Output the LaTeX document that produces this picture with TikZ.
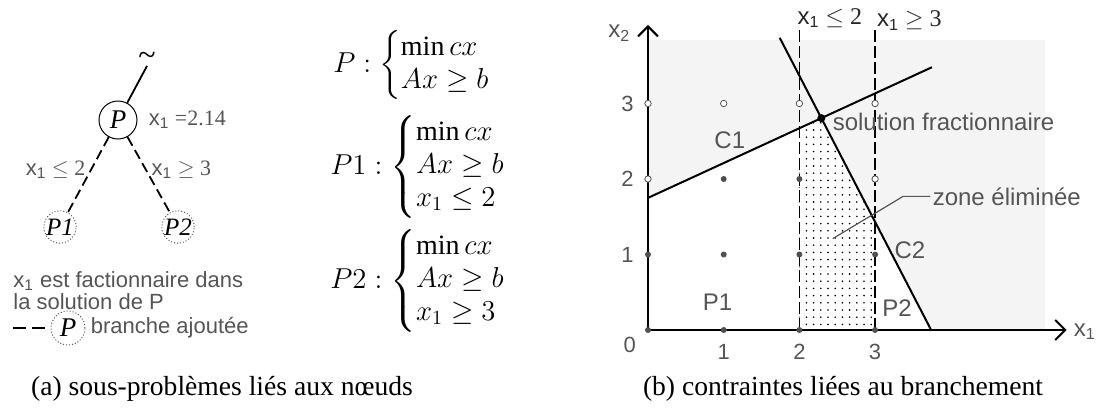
\documentclass[tikz,border=0pt]{standalone}
\usepackage{fontspec}
\setmainfont{Liberation Serif}
\setsansfont{Liberation Sans}
\usepackage{amsmath}
\usetikzlibrary{arrows.meta,positioning,patterns.meta}
\definecolor{lblgray}{RGB}{85,85,85}
\definecolor{bggray}{RGB}{244,244,244}
\definecolor{ptgray}{RGB}{80,80,80}
\newcommand{\xone}{\textsf{x\textsubscript{1}}}
\tikzdeclarepattern{
  name=sdots,
  type=uncolored,
  bottom left={(-1pt,-1pt)},
  top right={(1pt,1pt)},
  tile size={(3.6pt,3.6pt)},
  code={\fill (0pt,0pt) circle (0.45pt);}
}
\tikzset{
  nd/.style={circle,draw,line width=0.5pt,inner sep=0pt,minimum size=19pt,
             font=\fontsize{13.5}{13.5}\selectfont\itshape},
  ndnew/.style={nd,draw=lblgray,densely dotted,minimum size=16pt,
                font=\fontsize{12.5}{12.5}\selectfont\itshape},
  brch/.style={line width=0.9pt,dash pattern=on 5pt off 2.5pt},
  tlbl/.style={font=\fontsize{11}{11}\selectfont,text=lblgray,inner sep=1pt},
  note/.style={font=\sffamily\fontsize{11}{11}\selectfont,text=lblgray,
               inner sep=0pt,align=left},
  lbl/.style={font=\sffamily\fontsize{12}{12}\selectfont,text=lblgray,inner sep=1pt},
  ticklbl/.style={font=\sffamily\fontsize{11}{11}\selectfont,text=lblgray,inner sep=0pt},
  sys/.style={font=\fontsize{14}{13.75}\selectfont,inner sep=0pt,anchor=west},
  captxt/.style={font=\fontsize{13.8}{14}\selectfont,inner sep=0pt},
  axisarr/.style={line width=1pt,-{Straight Barb[length=5pt,width=10pt]}},
  cutline/.style={line width=0.9pt,dash pattern=on 6pt off 2pt},
  ipt/.style={circle,fill=ptgray,inner sep=0pt,minimum size=3pt},
  opt/.style={circle,draw=ptgray,fill=white,line width=0.4pt,inner sep=0pt,minimum size=3.2pt},
}

\begin{document}
\begin{tikzpicture}[x=0.5pt,y=-0.5pt]
  \useasboundingbox (0,0) rectangle (1101,418);

  % (a) search tree
  \node[nd] (nP) at (118,120) {P};
  \node[inner sep=0pt,anchor=south,font=\fontsize{16}{16}\selectfont] (ntilde) at (147,66) {\textasciitilde};
  \node[ndnew] (nP1) at (60,227) {P1};
  \node[ndnew] (nP2) at (178,227) {P2};
  \draw[line width=0.9pt] (ntilde.south) -- (nP);
  \draw[brch] (nP) -- node[tlbl,left,yshift=2.5pt]{\xone{} $\leq$ 2} (nP1);
  \draw[brch] (nP) -- node[tlbl,right,yshift=2.5pt]{\xone{} $\geq$ 3} (nP2);
  \node[tlbl,right=4.5pt of nP] (nval) {\xone{} =2.14};

  \node[note,anchor=north west] (nnote) at (13,271)
       {x\textsubscript{1} est factionnaire dans\\la solution de P};
  \coordinate (leg0) at (13,328);
  \node[ndnew,minimum size=17pt,font=\fontsize{13.5}{13.5}\selectfont\itshape] (nleg) at (68,328) {P};
  \draw[line width=0.9pt,dash pattern=on 6.5pt off 3pt] (leg0) -- (nleg);
  \node[note,right=2.5pt of nleg] (nlegtxt) {branche ajoutée};

  % sub-problems
  \node[sys] (sP) at (333,65) {$P : \begin{cases}\min cx\\ Ax\geq b\end{cases}$};
  \node[sys] (sP1) at (330,167) {$P1 : \begin{cases}\min cx\\ Ax\geq b\\ x_1\leq 2\end{cases}$};
  \node[sys] (sP2) at (330,281) {$P2 : \begin{cases}\min cx\\ Ax\geq b\\ x_1\geq 3\end{cases}$};

  \node[captxt] (capa) at (222,389) {(a) sous-problèmes liés aux nœuds};
  \node[captxt] (capb) at (843,389) {(b) contraintes liées au branchement};

  % (b) branching constraints
  \begin{scope}[shift={(648,330)},x=37.85pt,y=37.75pt]
    \fill[bggray] (0,0) rectangle (5.24,3.84);
    \coordinate (sol) at (2.29,2.806);
    \fill[white] (0,0) -- (0,1.75) -- (sol) -- (3.74,0) -- cycle;
    \fill[pattern=sdots] (2,0) -- (2,2.673) -- (sol) -- (3,1.44) -- (3,0) -- cycle;
    \draw[line width=1pt] (0,1.75) -- (3.75,3.48);
    \draw[line width=1pt] (1.74,3.87) -- (3.74,0);
    \draw[cutline] (2,0) -- (2,3.97);
    \draw[cutline] (3,0) -- (3,4.0);
    \node[tlbl,text=black!85,anchor=west,inner sep=0pt,font=\fontsize{12}{12}\selectfont] (ncut2) at (1.97,4.13) {\xone{} $\leq$ 2};
    \node[tlbl,text=black!85,anchor=west,inner sep=0pt,font=\fontsize{12}{12}\selectfont] (ncut3) at (3.02,4.10) {\xone{} $\geq$ 3};
    \draw[axisarr] (0,0) -- (5.53,0);
    \draw[axisarr] (0,0) -- (0,4.04);
    \node[lbl] (nx1) at (5.77,-0.02) {x\textsubscript{1}};
    \node[lbl] (nx2) at (-0.38,3.93) {x\textsubscript{2}};

    \foreach \i in {1,2,3}{
      \node[ticklbl] (tx\i) at (\i,-0.29) {\i};
      \node[ticklbl] (ty\i) at (-0.27,\i) {\i};
    }
    \node[ticklbl] (t0) at (-0.24,-0.2) {0};

    \foreach \x/\y in {0/0,1/0,2/0,3/0,0/1,1/1,2/1,3/1,1/2,2/2}
      \node[ipt] (pt\x\y) at (\x,\y) {};
    \foreach \x/\y in {0/2,3/2,0/3,1/3,2/3,3/3}
      \node[opt] (pt\x\y) at (\x,\y) {};
    \fill (sol) circle (2pt);

    \node[lbl] (nC1) at (1.08,2.52) {C1};
    \node[lbl] (nC2) at (3.46,1.06) {C2};
    \node[lbl] (nP1g) at (0.92,0.37) {P1};
    \node[lbl] (nP2g) at (3.29,0.29) {P2};
    \node[lbl,right=4.5pt of sol,yshift=-2pt] (nsol) {solution fractionnaire};
    \node[lbl,anchor=west] (nzone) at (3.73,1.77) {zone éliminée};
    \coordinate (zin) at (2.44,1.21);
    \draw[lblgray,line width=0.6pt] (nzone.west) -- ++(-0.36,0) -- (zin);
  \end{scope}
\end{tikzpicture}
\end{document}
